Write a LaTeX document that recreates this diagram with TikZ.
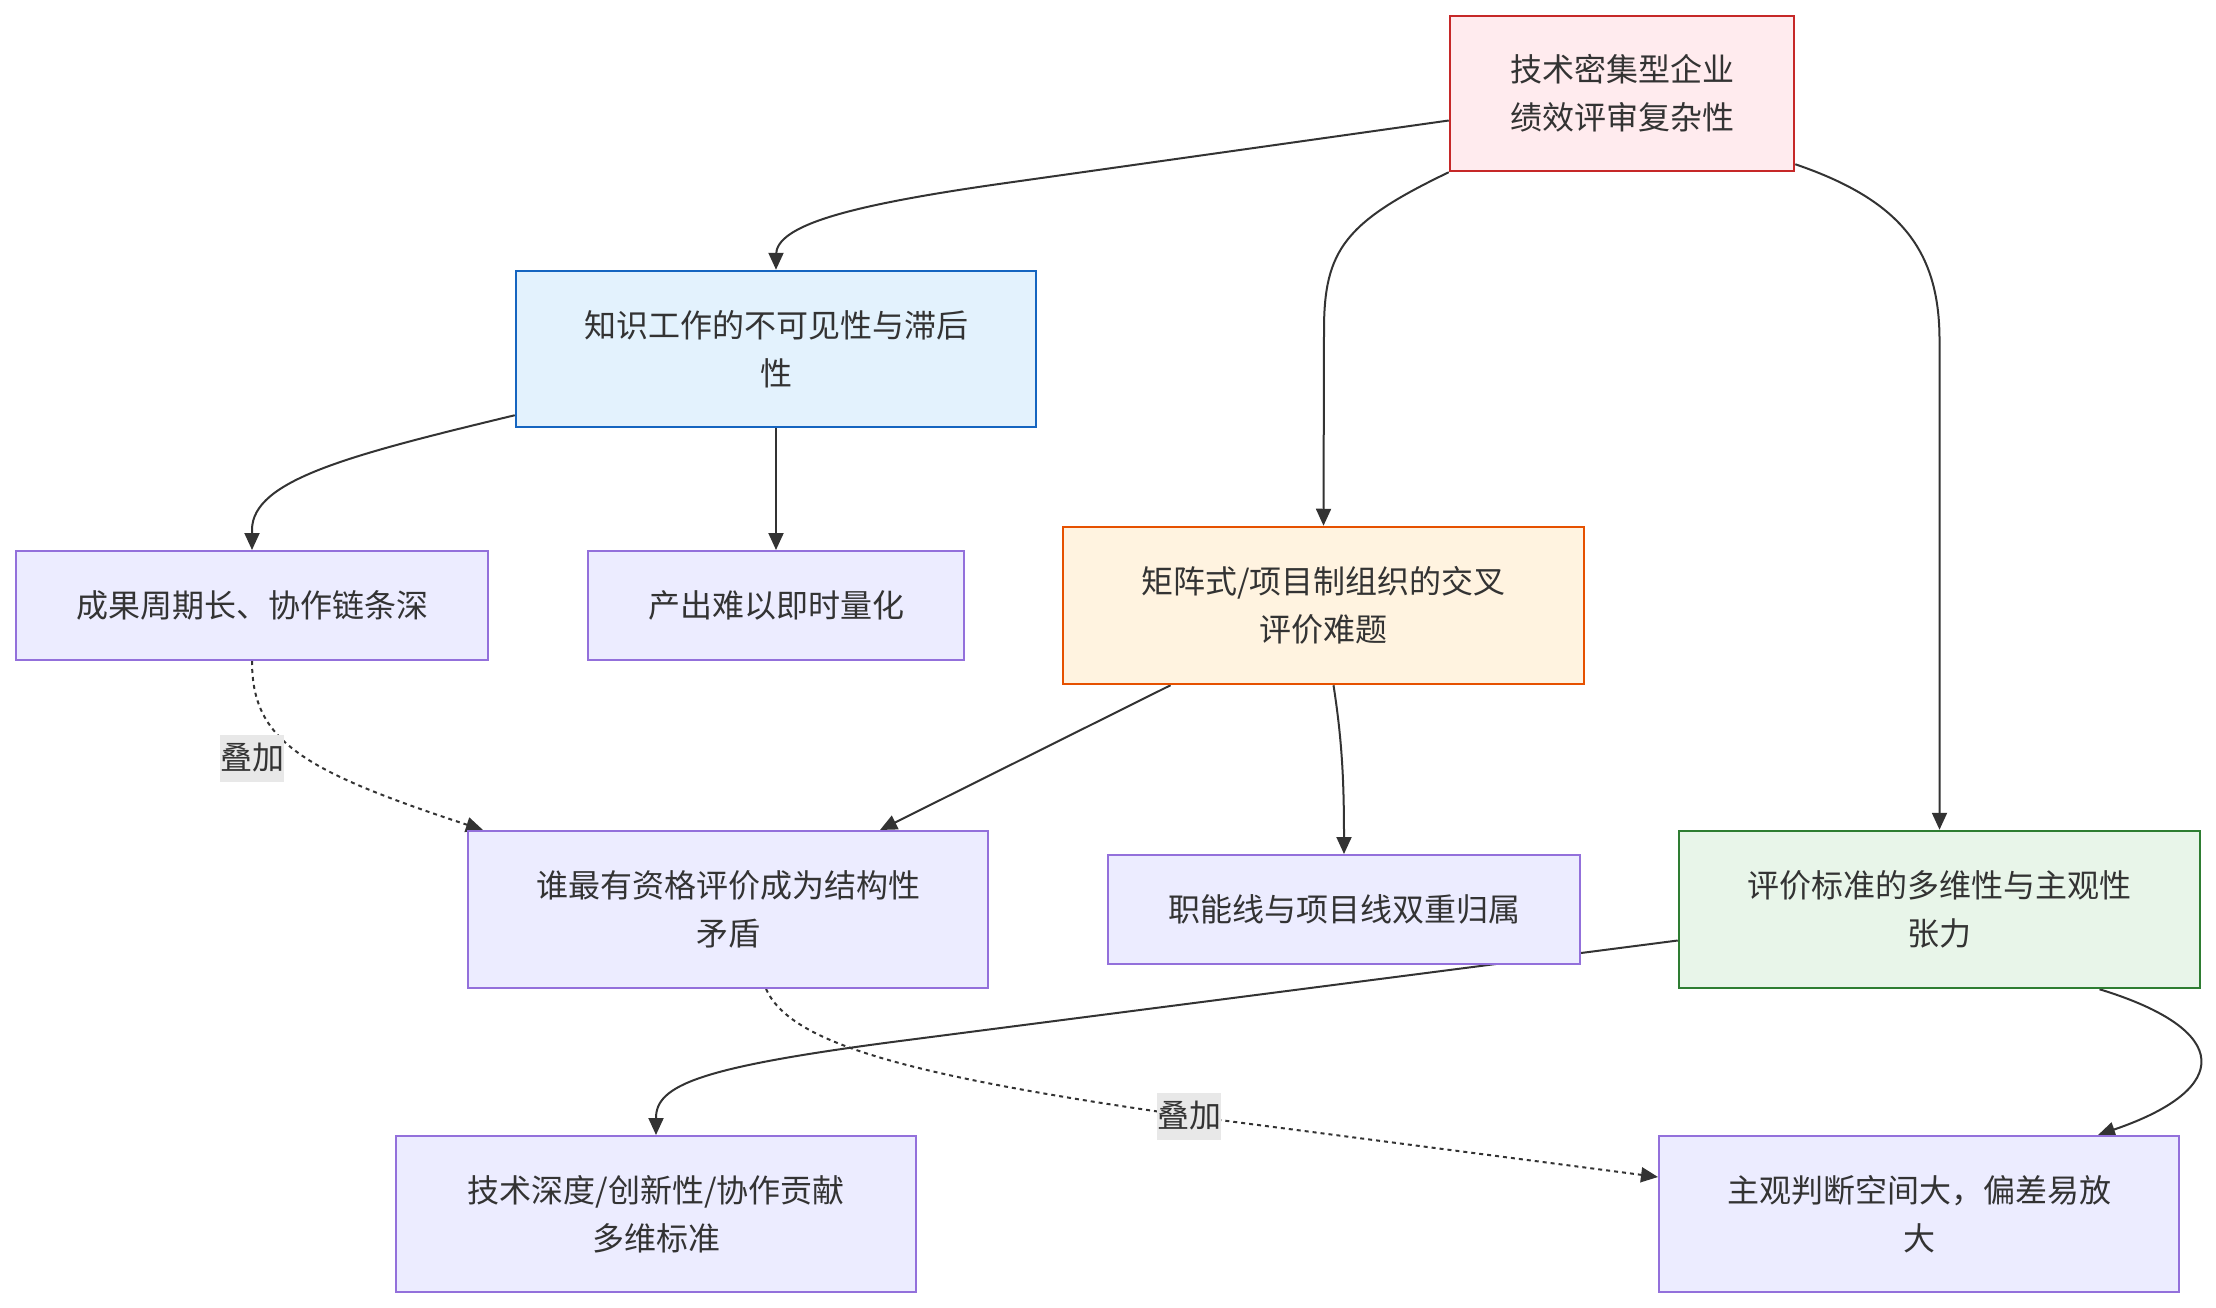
\documentclass[tikz,border=0pt]{standalone}
\usepackage{fontspec}
\newfontfamily\cjk{Noto Sans CJK SC}
\usetikzlibrary{arrows.meta,calc}
\pgfdeclarelayer{edgelayer}
\pgfsetlayers{edgelayer,main}
\definecolor{txt}{HTML}{333333}
\definecolor{defill}{HTML}{ECECFF}
\definecolor{destroke}{HTML}{9370DB}
\definecolor{redfill}{HTML}{FFEBEE}
\definecolor{redstroke}{HTML}{C62828}
\definecolor{bluefill}{HTML}{E3F2FD}
\definecolor{bluestroke}{HTML}{1565C0}
\definecolor{orfill}{HTML}{FFF3E0}
\definecolor{orstroke}{HTML}{E65100}
\definecolor{grfill}{HTML}{E8F5E9}
\definecolor{grstroke}{HTML}{2E7D32}
\definecolor{lblbg}{HTML}{E8E8E8}
\tikzset{
  box/.style={draw=destroke, fill=defill, line width=2pt, text=txt, align=center,
    font=\cjk\fontsize{32}{48}\selectfont, inner sep=0pt, rectangle},
  redbox/.style={box, draw=redstroke, fill=redfill, line width=2.5pt},
  bluebox/.style={box, draw=bluestroke, fill=bluefill, line width=2.5pt},
  orbox/.style={box, draw=orstroke, fill=orfill, line width=2.5pt},
  grbox/.style={box, draw=grstroke, fill=grfill, line width=2.5pt},
  edge/.style={draw=txt, line width=2pt, -{Triangle[length=17pt,width=15pt]}},
  dotedge/.style={edge, dash pattern=on 4pt off 4pt},
  lbl/.style={fill=lblbg, text=txt, font=\cjk\fontsize{32}{48}\selectfont, inner sep=0pt,
    minimum width=64pt, minimum height=47pt}
}
\begin{document}
\begin{tikzpicture}[x=1pt,y=-1pt]
\useasboundingbox (0,0) rectangle (2216,1308);
\node[redbox, minimum width=344pt, minimum height=155pt] (A) at (1622,93.5) {技术密集型企业\\绩效评审复杂性};
\node[bluebox, minimum width=520pt, minimum height=156pt] (B) at (776,349) {知识工作的不可见性与滞后\\性};
\node[box, minimum width=472pt, minimum height=109pt] (C) at (252,605.5) {成果周期长、协作链条深};
\node[box, minimum width=376pt, minimum height=109pt] (D) at (776,605.5) {产出难以即时量化};
\node[orbox, minimum width=521pt, minimum height=157pt] (E) at (1323.5,605.5) {矩阵式/项目制组织的交叉\\评价难题};
\node[box, minimum width=520pt, minimum height=157pt] (F) at (728,909.5) {谁最有资格评价成为结构性\\矛盾};
\node[box, minimum width=472pt, minimum height=109pt] (G) at (1344,909.5) {职能线与项目线双重归属};
\node[grbox, minimum width=521pt, minimum height=157pt] (H) at (1939.5,909.5) {评价标准的多维性与主观性\\张力};
\node[box, minimum width=520pt, minimum height=156pt] (I) at (656,1214) {技术深度/创新性/协作贡献\\多维标准};
\node[box, minimum width=520pt, minimum height=156pt] (J) at (1919,1214) {主观判断空间大，偏差易放\\大};

\begin{pgfonlayer}{edgelayer}
\draw[edge] ($(A.west)+(0,27)$) -- (1006,183) .. controls (850,205) and (776,225) .. (776,255) -- (B.north);
\draw[edge] (A.south west) .. controls (1345,222) and (1324,250) .. (1324,330) -- (E.north);
\draw[edge] ($(A.south east)+(0,-8)$) .. controls (1900,200) and (1939.5,250) .. (1939.5,340) -- (H.north);
\draw[edge] ($(B.south west)+(0,-13)$) .. controls (350,455) and (252,480) .. (252,530) -- (C.north);
\draw[edge] (B.south) -- (D.north);
\draw[edge] ($(E.south)+(-153,0)$) -- ($(F.north)+(152,0)$);
\draw[edge] ($(E.south)+(10,0)$) .. controls (1342,740) and (1344,780) .. (G.north);
\draw[edge] ($(H.west)+(0,31)$) -- (900,1041) .. controls (700,1067) and (656,1085) .. (656,1118) -- (I.north);
\draw[edge] ($(H.south)+(160,0)$) .. controls (2233,1030) and (2233,1089) .. ($(J.north)+(179,0)$);
\draw[dotedge] (C.south) .. controls (252,740) and (300,770) .. ($(F.north west)+(16,0)$);
\draw[dotedge] ($(F.south)+(38,0)$) .. controls (790,1042) and (900,1075) .. (1189,1116) -- ($(J.west)+(0,-37)$);
\end{pgfonlayer}
\node[lbl] (L1) at (252,758) {叠加};
\node[lbl] (L2) at (1189,1116) {叠加};
\end{tikzpicture}
\end{document}
